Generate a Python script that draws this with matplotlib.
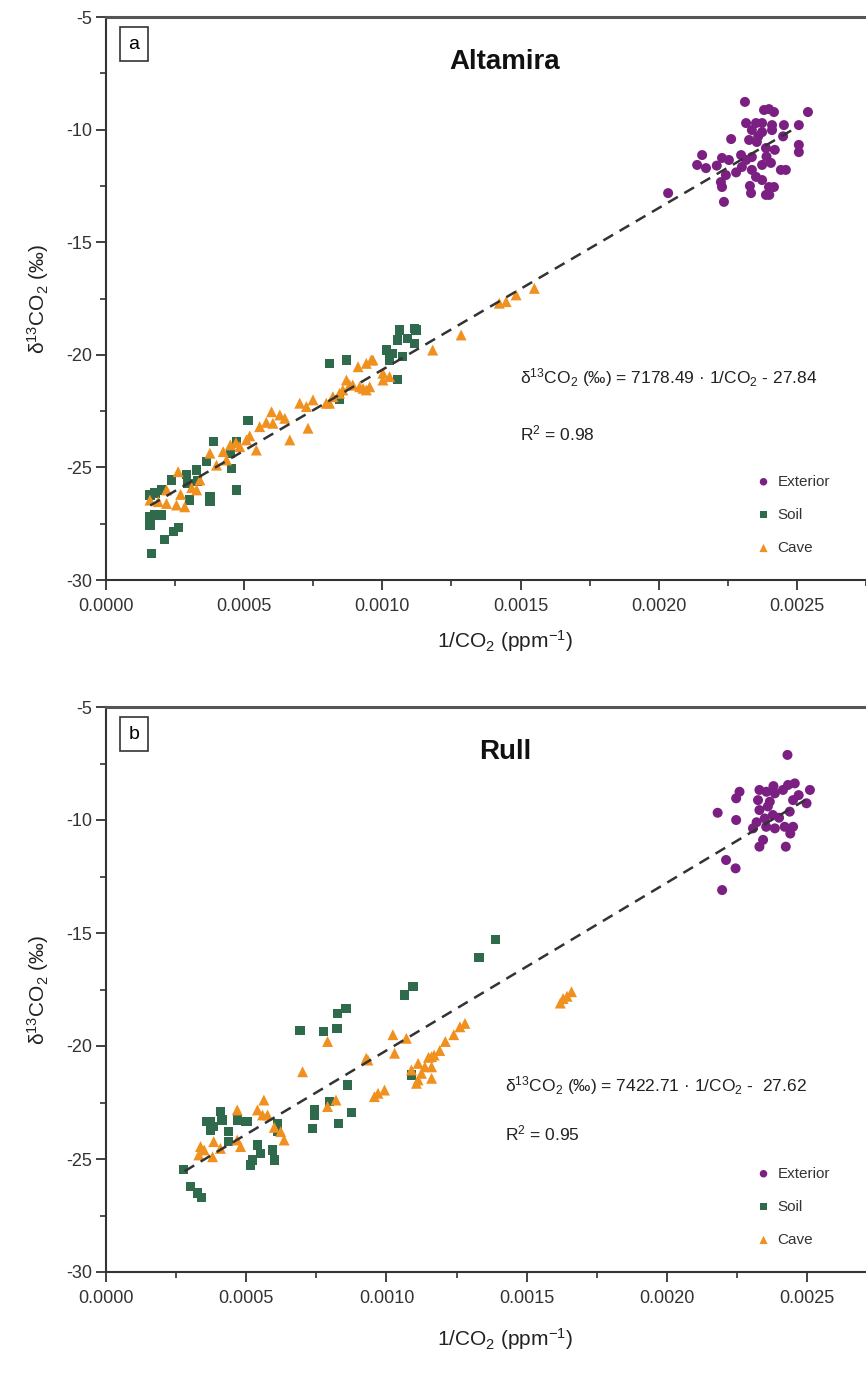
import numpy as np
import matplotlib
matplotlib.use("Agg")
import matplotlib.pyplot as plt
from matplotlib.ticker import MultipleLocator, FormatStrFormatter

plt.rcParams['font.family'] = ['Liberation Sans', 'DejaVu Sans']
plt.rcParams['axes.unicode_minus'] = False
plt.rcParams['mathtext.fontset'] = 'custom'
plt.rcParams['mathtext.rm'] = 'Liberation Sans'
plt.rcParams['mathtext.it'] = 'Liberation Sans:italic'

# ---- data ----
# panel a, Altamira
ext_a = [(0.002312, -8.77), (0.002381, -9.13), (0.002399, -9.09), (0.002417, -9.22), (0.002540, -9.22),
         (0.002316, -9.71), (0.002352, -9.71), (0.002374, -9.71), (0.002410, -9.80), (0.002453, -9.80),
         (0.002507, -9.80), (0.002337, -10.02), (0.002374, -10.11), (0.002410, -10.02), (0.002262, -10.42),
         (0.002327, -10.46), (0.002355, -10.55), (0.002388, -10.82), (0.002507, -10.68), (0.002507, -11.00),
         (0.002157, -11.13), (0.002229, -11.26), (0.002254, -11.35), (0.002298, -11.13), (0.002316, -11.35),
         (0.002337, -11.22), (0.002139, -11.57), (0.002171, -11.71), (0.002301, -11.66), (0.002337, -11.79),
         (0.002374, -11.57), (0.002406, -11.48), (0.002442, -11.79), (0.002460, -11.79), (0.002243, -12.02),
         (0.002225, -12.33), (0.002229, -12.55), (0.002352, -12.10), (0.002374, -12.24), (0.002399, -12.55),
         (0.002417, -12.55), (0.002034, -12.82), (0.002334, -12.82), (0.002388, -12.90), (0.002236, -13.21),
         (0.00236, -10.30), (0.00242, -10.90), (0.00228, -11.90), (0.00239, -11.20), (0.00233, -12.50),
         (0.00245, -10.30), (0.00221, -11.60), (0.00240, -12.90)]
soil_a = [(0.000165, -28.81), (0.000159, -27.19), (0.000159, -27.56), (0.000177, -27.11), (0.000201, -27.11),
          (0.000213, -28.19), (0.000243, -27.85), (0.000261, -27.68), (0.000159, -26.23), (0.000177, -26.14),
          (0.000201, -26.00), (0.000237, -25.56), (0.000297, -25.70), (0.000303, -26.45), (0.000328, -25.12),
          (0.000364, -24.75), (0.000376, -26.30), (0.000376, -26.52), (0.000388, -23.86), (0.000454, -25.04),
          (0.000472, -23.86), (0.000472, -26.00), (0.000514, -22.90), (0.000845, -22.00), (0.001055, -21.10),
          (0.000809, -20.38), (0.000870, -20.23), (0.001014, -19.79), (0.001038, -19.93), (0.001062, -18.90),
          (0.001116, -18.83), (0.001056, -19.34), (0.001092, -19.27), (0.001116, -19.49), (0.001073, -20.08),
          (0.001026, -20.23), (0.001122, -18.90), (0.000290, -25.30), (0.000330, -25.60), (0.000450, -24.40)]
cave_a = [(0.000159, -26.45), (0.000189, -26.52), (0.000219, -26.60), (0.000255, -26.67), (0.000285, -26.75),
          (0.000261, -25.19), (0.000219, -26.00), (0.000328, -26.00), (0.000340, -25.56), (0.000376, -24.37),
          (0.000424, -24.30), (0.000436, -24.67), (0.000484, -24.08), (0.000508, -23.78), (0.000544, -24.23),
          (0.000556, -23.19), (0.000599, -22.53), (0.000647, -22.82), (0.000665, -23.78), (0.000604, -23.04),
          (0.000701, -22.15), (0.000731, -23.26), (0.000749, -22.00), (0.000809, -22.15), (0.000845, -21.71),
          (0.000893, -21.34), (0.000930, -21.49), (0.000954, -21.42), (0.001002, -21.12), (0.000629, -22.67),
          (0.000725, -22.30), (0.000797, -22.15), (0.000821, -21.86), (0.000857, -21.56), (0.000882, -21.34),
          (0.000918, -21.42), (0.000942, -21.56), (0.000912, -20.53), (0.000942, -20.38), (0.000966, -20.23),
          (0.001026, -20.97), (0.001182, -19.79), (0.001285, -19.12), (0.001423, -17.71), (0.001448, -17.64),
          (0.001484, -17.34), (0.001550, -17.05), (0.000960, -20.23), (0.001002, -20.82), (0.000870, -21.12),
          (0.000270, -26.20), (0.000310, -25.90), (0.000400, -24.90), (0.000450, -24.00), (0.000470, -23.90),
          (0.000520, -23.60), (0.000580, -23.00)]

# panel b, Rull
ext_b = [(0.002430, -7.12), (0.002510, -8.67), (0.002498, -9.26), (0.002456, -8.38), (0.002432, -8.45),
         (0.002259, -8.75), (0.002247, -9.04), (0.002330, -8.67), (0.002355, -8.75), (0.002385, -8.82),
         (0.002414, -8.67), (0.002325, -9.12), (0.002367, -9.19), (0.002450, -9.12), (0.002181, -9.68),
         (0.002247, -10.00), (0.002330, -9.56), (0.002378, -9.78), (0.002438, -9.63), (0.002307, -10.37),
         (0.002354, -10.30), (0.002385, -10.37), (0.002420, -10.30), (0.002450, -10.30), (0.002349, -9.93),
         (0.002343, -10.88), (0.002330, -11.18), (0.002424, -11.18), (0.002211, -11.77), (0.002245, -12.14),
         (0.002197, -13.10), (0.002360, -9.40), (0.002400, -9.90), (0.002320, -10.10), (0.002470, -8.90),
         (0.002380, -8.50), (0.002440, -10.60)]
soil_b = [(0.001390, -15.30), (0.001330, -16.10), (0.001095, -17.38), (0.001065, -17.74), (0.000856, -18.33),
          (0.000826, -18.55), (0.000692, -19.30), (0.000776, -19.35), (0.000824, -19.22), (0.001089, -21.28),
          (0.000862, -21.73), (0.000796, -22.46), (0.000743, -22.83), (0.000743, -23.05), (0.000876, -22.95),
          (0.000828, -23.42), (0.000737, -23.64), (0.000408, -22.91), (0.000373, -23.35), (0.000384, -23.57),
          (0.000414, -23.27), (0.000468, -23.27), (0.000504, -23.35), (0.000438, -23.79), (0.000611, -23.42),
          (0.000611, -23.79), (0.000360, -23.35), (0.000373, -23.72), (0.000438, -24.23), (0.000498, -23.35),
          (0.000540, -24.38), (0.000552, -24.75), (0.000522, -25.04), (0.000516, -25.27), (0.000594, -24.60),
          (0.000600, -25.04), (0.000277, -25.45), (0.000301, -26.20), (0.000325, -26.50), (0.000340, -26.70)]
cave_b = [(0.000701, -21.14), (0.000563, -22.39), (0.000540, -22.83), (0.000576, -23.05), (0.000468, -22.83),
          (0.000623, -23.79), (0.000635, -24.16), (0.000337, -24.45), (0.000331, -24.82), (0.000384, -24.23),
          (0.000408, -24.53), (0.000468, -24.16), (0.000480, -24.45), (0.000790, -22.68), (0.000820, -22.39),
          (0.000970, -22.09), (0.000993, -21.95), (0.000957, -22.24), (0.001089, -21.06), (0.001125, -21.21),
          (0.001161, -20.92), (0.001113, -21.50), (0.001161, -21.43), (0.000934, -20.62), (0.000790, -19.80),
          (0.000928, -20.54), (0.001023, -19.50), (0.001071, -19.66), (0.001029, -20.32), (0.000558, -23.05),
          (0.001113, -20.77), (0.001137, -20.92), (0.001161, -20.47), (0.001107, -21.65), (0.001644, -17.80),
          (0.001620, -18.10), (0.001262, -19.15), (0.001280, -19.00), (0.001240, -19.50), (0.001210, -19.80),
          (0.001190, -20.20), (0.001150, -20.50), (0.001170, -20.40), (0.001630, -17.90), (0.001660, -17.60),
          (0.000350, -24.60), (0.000380, -24.90), (0.000600, -23.60)]

# regression lines as printed in the figure
fit_a = (7178.49, -27.84)
fit_b = (7422.71, -27.62)
fit_a_range = [0.00016, 0.0025]
fit_b_range = [0.00028, 0.0025]

ext_col = '#7b1f82'
soil_col = '#2f6a4c'
cave_col = '#f0901e'


def draw_panel(ax, ext, soil, cave, fit, fit_range, xmax, letter, title, eq, r2, eq_pos, leg_y):
    ex, ey = np.array(ext).T
    sx, sy = np.array(soil).T
    cx, cy = np.array(cave).T
    ax.scatter(ex, ey, s=52, marker='o', color=ext_col, edgecolors='none', label='Exterior', zorder=3)
    ax.scatter(sx, sy, s=44, marker='s', color=soil_col, edgecolors='none', label='Soil', zorder=3)
    ax.scatter(cx, cy, s=62, marker='^', color=cave_col, edgecolors='none', label='Cave', zorder=3)
    lx = np.array(fit_range)
    ax.plot(lx, fit[0] * lx + fit[1], color='#333333', lw=1.8, ls=(0, (4.5, 3)), zorder=4)

    ax.set_xlim(0, xmax)
    ax.set_ylim(-30, -5)
    ax.xaxis.set_major_locator(MultipleLocator(0.0005))
    ax.xaxis.set_minor_locator(MultipleLocator(0.00025))
    ax.xaxis.set_major_formatter(FormatStrFormatter('%.4f'))
    ax.yaxis.set_major_locator(MultipleLocator(5))
    ax.yaxis.set_minor_locator(MultipleLocator(2.5))
    ax.yaxis.set_major_formatter(FormatStrFormatter('%d'))
    ax.tick_params(which='major', direction='out', length=7, width=1.3, labelsize=13,
                   labelcolor='#333333', color='#333333')
    ax.tick_params(which='minor', direction='out', length=4, width=1.2, color='#333333')
    ax.tick_params(axis='x', which='major', pad=6)
    ax.tick_params(axis='y', which='major', pad=3)
    ax.spines['right'].set_visible(False)
    ax.spines['top'].set_linewidth(2.2)
    ax.spines['top'].set_color('#555555')
    ax.spines['left'].set_linewidth(1.5)
    ax.spines['bottom'].set_linewidth(1.5)
    ax.spines['left'].set_color('#333333')
    ax.spines['bottom'].set_color('#333333')

    ax.set_ylabel('δ$^{13}$CO$_2$ (‰)', fontsize=15, color='#222222')
    ax.yaxis.set_label_coords(-0.072, 0.5)
    ax.set_xlabel('1/CO$_2$ (ppm$^{-1}$)', fontsize=15, color='#222222')

    ax.text(0.037, 0.952, letter, transform=ax.transAxes, fontsize=14, ha='center', va='center',
            bbox=dict(boxstyle='square,pad=0.45', fc='white', ec='#333333', lw=1.2))
    ax.text(0.525, 0.92, title, transform=ax.transAxes, fontsize=20, fontweight='bold',
            ha='center', va='center', color='#111111')
    ax.text(eq_pos[0], eq_pos[1], eq, transform=ax.transAxes, fontsize=12.5, ha='left',
            va='center', color='#222222')
    ax.text(eq_pos[0], eq_pos[2], r2, transform=ax.transAxes, fontsize=12.5, ha='left',
            va='center', color='#222222')
    ax.legend(loc='lower left', bbox_to_anchor=(0.835, leg_y), frameon=False, fontsize=11,
              markerscale=0.75, handletextpad=0.3, labelspacing=1.25, handlelength=1.2,
              labelcolor='#333333')


fig = plt.figure(figsize=(8.66, 13.82), dpi=100)
ax_a = fig.add_axes([106 / 866, 1 - 580 / 1382, 1 - 106 / 866, (580 - 17) / 1382])
ax_b = fig.add_axes([106 / 866, 1 - 1272 / 1382, 1 - 106 / 866, (1272 - 707) / 1382])

draw_panel(ax_a, ext_a, soil_a, cave_a, fit_a, fit_a_range, 0.00275, 'a', 'Altamira',
           'δ$^{13}$CO$_2$ (‰) = 7178.49 · 1/CO$_2$ - 27.84', 'R$^2$ = 0.98',
           (0.545, 0.36, 0.26), 0.02)
draw_panel(ax_b, ext_b, soil_b, cave_b, fit_b, fit_b_range, 0.00271, 'b', 'Rull',
           'δ$^{13}$CO$_2$ (‰) = 7422.71 · 1/CO$_2$ -  27.62', 'R$^2$ = 0.95',
           (0.525, 0.33, 0.245), 0.02)
ax_a.xaxis.set_label_coords(0.525, -0.085)
ax_b.xaxis.set_label_coords(0.525, -0.095)

fig.savefig('out.png', dpi=100)
